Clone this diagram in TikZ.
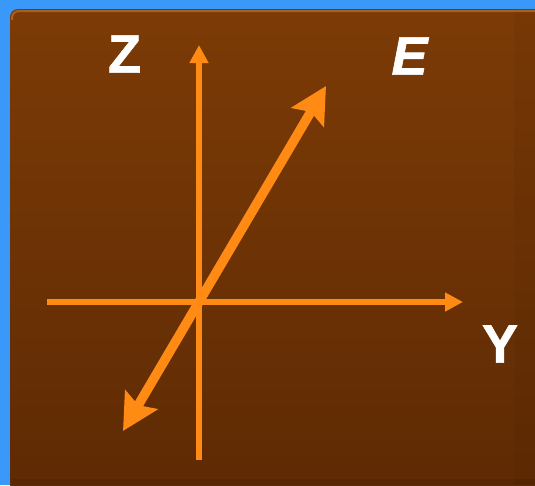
\documentclass[tikz,border=0pt]{standalone}
\usepackage{fontspec}
\setmainfont{Liberation Sans}
\newfontfamily\lblfont[BoldFont={Liberation Sans Bold},BoldFeatures={FakeBold=1.2},BoldItalicFont={Liberation Sans Bold Italic},BoldItalicFeatures={FakeBold=1.2}]{Liberation Sans}
\usetikzlibrary{arrows.meta}
\definecolor{bgblue}{HTML}{3A98F8}
\definecolor{paneltop}{HTML}{7C3B06}
\definecolor{panelbot}{HTML}{5E2A04}
\definecolor{panelhi}{HTML}{A8601E}
\definecolor{axisor}{HTML}{FF8A14}
\tikzset{
  axisline/.style={draw=axisor, line width=6pt, -{Triangle[length=18pt,width=18pt]}},
  eline/.style={draw=axisor, line width=9.5pt, {Stealth[length=36pt,width=37pt,inset=6pt]}-{Stealth[length=36pt,width=37pt,inset=6pt]}},
  lbl/.style={text=white, font=\lblfont\fontsize{54}{54}\selectfont\bfseries, inner sep=0pt},
}
\begin{document}
\begin{tikzpicture}[x=1pt,y=-1pt]
\useasboundingbox (0,0) rectangle (535,485);
\fill[bgblue] (0,0) rectangle (535,485);
\shade[top color=paneltop, bottom color=panelbot, rounded corners=8pt] (10,9) rectangle (545,495);
\draw[panelhi, line width=2pt, rounded corners=7pt] (12,20) -- (12,11) -- (540,11);
\fill[black, opacity=0.04] (514,12) rectangle (535,485);
\fill[black, opacity=0.08] (12,479) rectangle (535,485);
\coordinate (ybeg) at (47,302);
\coordinate (yend) at (463,302);
\coordinate (zbeg) at (199,460);
\coordinate (zend) at (199,45);
\coordinate (ebeg) at (123,431);
\coordinate (eend) at (326,86);
\draw[axisline] (ybeg) -- (yend);
\draw[axisline] (zbeg) -- (zend);
\draw[eline] (ebeg) -- (eend);
\node[lbl] (zl) at (124.5,54) {Z};
\node[lbl] (el) at (409.5,56) {\itshape E};
\node[lbl] (yl) at (500,344) {Y};
\end{tikzpicture}
\end{document}
